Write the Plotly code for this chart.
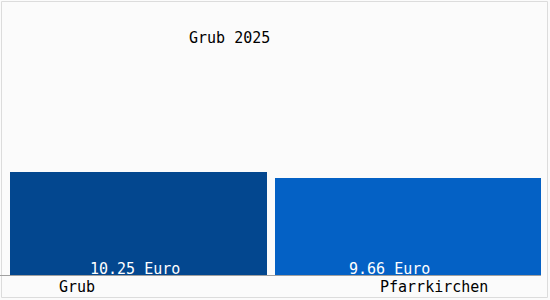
import plotly.graph_objects as go

categories = ["Grub", "Pfarrkirchen"]
values = [10.25, 9.66]
value_labels = ["10.25 Euro", "9.66 Euro"]
bar_colors = ["#03478f", "#0461c5"]
title_text = "Grub 2025"

# bar geometry (styles, in category units; 275 px per category)
bar_widths = [257 / 275, 266 / 275]
bar_offsets = [(10 - 137.5) / 275, (275 - 412.5) / 275]

FONT = "DejaVu Sans Mono"
FS = 15
W, H = 550, 300
L, R, T, B = 0, 0, 0, 25
PW, PH = W - L - R, H - T - B

def px_x(p):
    return (p - L) / PW

def px_y(p):
    return (H - B - p) / PH

fig = go.Figure()
fig.add_trace(go.Bar(
    x=categories, y=values, width=bar_widths, offset=bar_offsets,
    marker=dict(color=bar_colors, line=dict(width=0)),
    hoverinfo="skip", showlegend=False,
))

annotations = []
val_centers = [134.5, 389.7]
for lbl, cx in zip(value_labels, val_centers):
    annotations.append(dict(x=px_x(cx), y=px_y(269), xref="paper", yref="paper", text=lbl,
                            showarrow=False, xanchor="center", yanchor="middle",
                            font=dict(family=FONT, size=FS, color="white")))
cat_centers = [77, 433.5]
for c, cx in zip(categories, cat_centers):
    annotations.append(dict(x=px_x(cx), y=px_y(287), xref="paper", yref="paper", text=c,
                            showarrow=False, xanchor="center", yanchor="middle",
                            font=dict(family=FONT, size=FS, color="black")))
annotations.append(dict(x=px_x(229.5), y=px_y(38), xref="paper", yref="paper",
                        text=title_text, showarrow=False, xanchor="center", yanchor="middle",
                        font=dict(family=FONT, size=FS, color="black")))

shapes = [
    dict(type="rect", xref="paper", yref="paper", x0=px_x(1.5), x1=px_x(547.5),
         y0=px_y(1.5), y1=px_y(297.5), line=dict(color="#dcdcdc", width=1)),
    dict(type="line", xref="paper", yref="paper", x0=px_x(0), x1=px_x(541),
         y0=px_y(275.5), y1=px_y(275.5), line=dict(color="#a0a0a0", width=1)),
]

fig.update_layout(
    width=W, height=H, margin=dict(l=L, r=R, t=T, b=B),
    paper_bgcolor="#fbfbfb", plot_bgcolor="#fbfbfb",
    xaxis=dict(range=[-0.5, 1.5], showticklabels=False, showgrid=False,
               zeroline=False, showline=False, fixedrange=True),
    yaxis=dict(range=[0, 27.36], showticklabels=False, showgrid=False,
               zeroline=False, showline=False, fixedrange=True),
    annotations=annotations, shapes=shapes,
)

fig.write_html("out.html", config={"displayModeBar": False})
